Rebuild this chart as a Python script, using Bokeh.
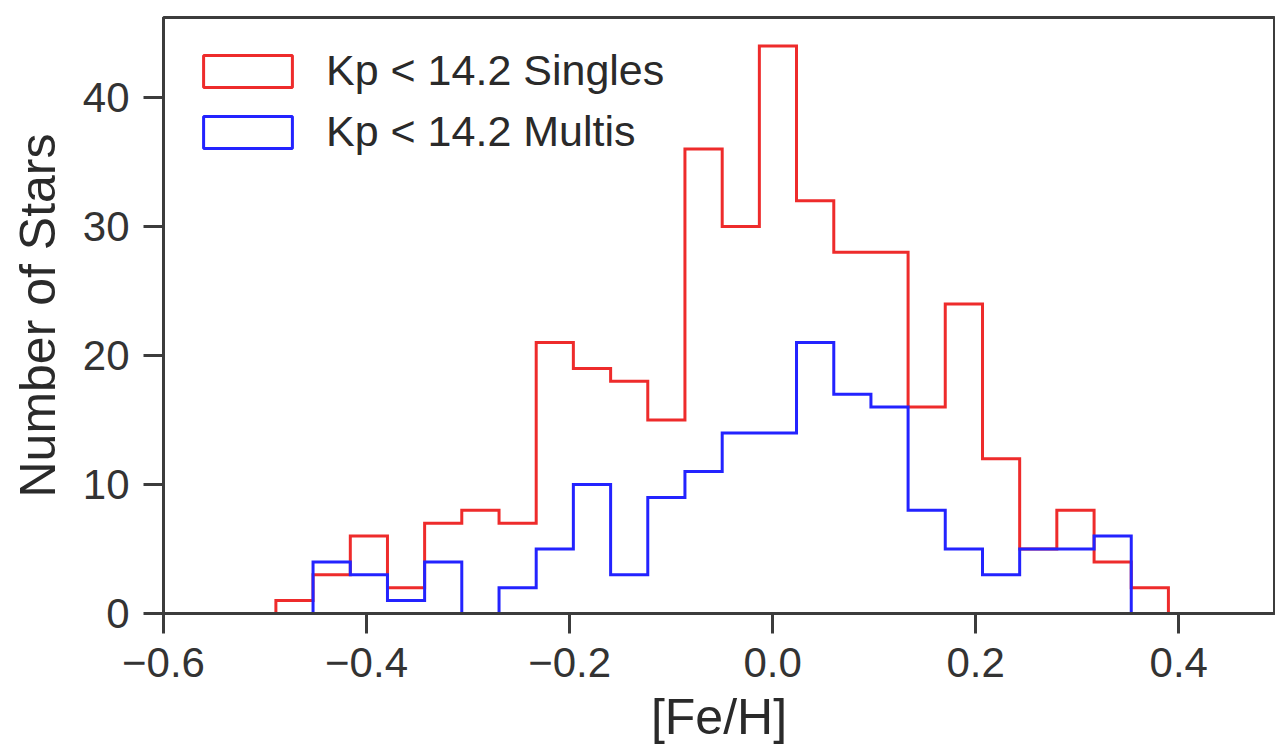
from bokeh.plotting import figure
from bokeh.models import Range1d, FixedTicker, Legend, LegendItem
from bokeh.embed import file_html
from bokeh.resources import INLINE

# ---- data ----
bin_edges = [-0.4893, -0.4527, -0.4160, -0.3794, -0.3428, -0.3062, -0.2695,
             -0.2329, -0.1963, -0.1596, -0.1230, -0.0864, -0.0497, -0.0131,
             0.0235, 0.0602, 0.0968, 0.1334, 0.1700, 0.2067, 0.2433, 0.2799,
             0.3166, 0.3532, 0.3898]
singles = [1, 3, 6, 2, 7, 8, 7, 21, 19, 18, 15, 36, 30, 44, 32, 28, 28, 16, 24,
           12, 5, 8, 4, 2]
multis = [0, 4, 3, 1, 4, 0, 2, 5, 10, 3, 9, 11, 14, 14, 21, 17, 16, 8, 5, 3, 5,
          5, 6, 0]
series_labels = ["Kp < 14.2 Singles", "Kp < 14.2 Multis"]
x_ticks = [-0.6, -0.4, -0.2, 0.0, 0.2, 0.4]
x_tick_labels = ["\u22120.6", "\u22120.4", "\u22120.2", "0.0", "0.2", "0.4"]
y_ticks = [0, 10, 20, 30, 40]
x_label = "[Fe/H]"
y_label = "Number of Stars"

RED = "#ee2b2b"
BLUE = "#2323ff"
AX = "#3c3c3c"
FONT = "Liberation Sans"
NAN = float("nan")


def step_outline(edges, counts):
    xs = [edges[0]]
    ys = [0]
    for i, c in enumerate(counts):
        xs += [edges[i], edges[i + 1]]
        ys += [c, c]
    xs.append(edges[-1])
    ys.append(0)
    return xs, ys


p = figure(width=1275, height=748, output_backend="svg", toolbar_location=None,
           x_range=Range1d(-0.6, 0.4943), y_range=Range1d(0, 46.2),
           min_border_left=163, min_border_right=1, min_border_top=17,
           min_border_bottom=135)
p.background_fill_color = "white"
p.border_fill_color = "white"
p.grid.visible = False
p.outline_line_color = AX
p.outline_line_width = 3

sx, sy = step_outline(bin_edges, singles)
mx, my = step_outline(bin_edges, multis)
p.line(sx, sy, line_color=RED, line_width=3, line_join="miter")
p.line(mx, my, line_color=BLUE, line_width=3, line_join="miter")

# legend proxies (unfilled boxes, not drawn in the plot area)
r_s = p.quad(left=[NAN], right=[NAN], top=[NAN], bottom=[NAN], fill_alpha=0,
             line_color=RED, line_width=3)
r_m = p.quad(left=[NAN], right=[NAN], top=[NAN], bottom=[NAN], fill_alpha=0,
             line_color=BLUE, line_width=3)

legend = Legend(items=[LegendItem(label=series_labels[0], renderers=[r_s], index=0),
                       LegendItem(label=series_labels[1], renderers=[r_m], index=0)],
                location="top_left")
legend.glyph_width = 111
legend.glyph_height = 40
legend.label_standoff = 23
legend.label_text_font = FONT
legend.label_text_font_size = "43px"
legend.label_text_color = "#2a2a2a"
legend.padding = 0
legend.margin = 29
legend.spacing = 12
legend.border_line_alpha = 0
legend.background_fill_alpha = 0
p.add_layout(legend)

for ax in (p.xaxis[0], p.yaxis[0]):
    ax.axis_line_color = AX
    ax.axis_line_width = 3
    ax.major_tick_line_color = AX
    ax.major_tick_line_width = 3
    ax.major_tick_out = 20
    ax.major_tick_in = 0
    ax.minor_tick_line_color = None
    ax.major_label_text_font = FONT
    ax.major_label_text_font_size = "42px"
    ax.major_label_text_color = "#333333"
    ax.axis_label_text_font = FONT
    ax.axis_label_text_font_size = "50px"
    ax.axis_label_text_font_style = "normal"
    ax.axis_label_text_color = "#2a2a2a"

p.xaxis[0].ticker = FixedTicker(ticks=x_ticks, minor_ticks=[])
p.xaxis[0].major_label_overrides = dict(zip(x_ticks, x_tick_labels))
p.xaxis[0].axis_label = x_label
p.xaxis[0].major_label_standoff = 14
p.xaxis[0].axis_label_standoff = 9

p.yaxis[0].ticker = FixedTicker(ticks=y_ticks, minor_ticks=[])
p.yaxis[0].axis_label = y_label
p.yaxis[0].major_label_standoff = 14
p.yaxis[0].axis_label_standoff = 14

open("out.html", "w").write(file_html(p, INLINE))
